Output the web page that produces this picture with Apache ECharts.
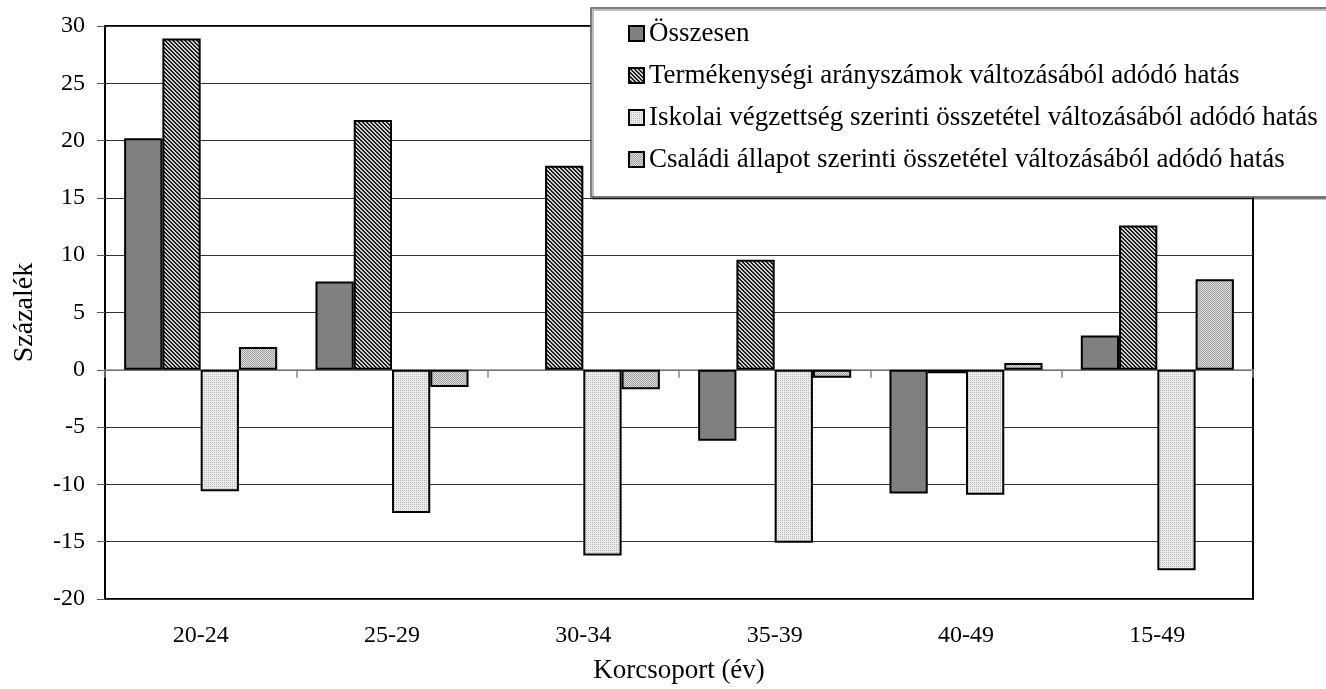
<!DOCTYPE html>
<html><head><meta charset="utf-8">
<script src="https://cdn.jsdelivr.net/npm/echarts@6/dist/echarts.min.js"></script>
<style>html,body{margin:0;padding:0;background:#fff}#c{width:1326px;height:689px}</style>
</head><body><div id="c"></div>
<script>
const categories = ['20-24', '25-29', '30-34', '35-39', '40-49', '15-49'];
const seriesNames = [
  'Összesen',
  'Termékenységi arányszámok változásából adódó hatás',
  'Iskolai végzettség szerinti összetétel változásából adódó hatás',
  'Családi állapot szerinti összetétel változásából adódó hatás'
];
const osszesen      = [20.2, 7.7, 0, -6.2, -10.8, 3.0];
const termekenysegi = [28.9, 21.8, 17.8, 9.6, -0.3, 12.6];
const iskolai       = [-10.6, -12.5, -16.2, -15.1, -10.9, -17.5];
const csaladi       = [2.0, -1.5, -1.7, -0.7, 0.6, 7.9];
const yMin = -20, yMax = 30, yInterval = 5;
const xAxisTitle = 'Korcsoport (év)';
const yAxisTitle = 'Százalék';

const FONT = "'Liberation Serif', 'Times New Roman', serif";

function makePattern(size, bg, fg, fn) {
  const c = document.createElement('canvas');
  c.width = c.height = size;
  const ctx = c.getContext('2d');
  ctx.fillStyle = bg; ctx.fillRect(0, 0, size, size);
  ctx.fillStyle = fg;
  for (let y = 0; y < size; y++) for (let x = 0; x < size; x++) if (fn(x, y)) ctx.fillRect(x, y, 1, 1);
  return { image: c, repeat: 'repeat' };
}
const fills = [
  '#808080',
  makePattern(4, '#d0d0d0', '#202020', (x, y) => ((x - y + 8) % 4) < 2),
  makePattern(2, '#ececec', '#b8b8b8', (x, y) => x === 0 && y === 0),
  makePattern(2, '#dcdcdc', '#a0a0a0', (x, y) => (x + y) % 2 === 0)
];
const values = [osszesen, termekenysegi, iskolai, csaladi];

const chart = echarts.init(document.getElementById('c'), null, { renderer: 'canvas' });
chart.setOption({
  animation: false,
  backgroundColor: '#fff',
  textStyle: { fontFamily: FONT, color: '#000' },
  grid: { left: 105, right: 73, top: 26, bottom: 89, show: true, borderColor: '#000', borderWidth: 2, backgroundColor: 'transparent' },
  legend: {
    orient: 'vertical', left: 591, top: 8,
    padding: [12, 24, 24, 37], itemGap: 15, itemWidth: 15, itemHeight: 15, icon: 'rect',
    backgroundColor: '#fff', borderColor: '#555', borderWidth: 1.5,
    shadowColor: 'rgba(0,0,0,0.35)', shadowOffsetX: 2, shadowOffsetY: 2, shadowBlur: 0,
    textStyle: { fontFamily: FONT, fontSize: 27, lineHeight: 27, color: '#000' },
    data: seriesNames
  },
  xAxis: [
    {
      type: 'category', data: categories, position: 'bottom',
      axisLine: { show: false, onZero: false }, axisTick: { show: false },
      axisLabel: { margin: 25, fontSize: 24, fontFamily: FONT, color: '#000' },
      name: xAxisTitle, nameLocation: 'middle', nameGap: 58,
      nameTextStyle: { fontSize: 27, fontFamily: FONT, color: '#000' }
    },
    {
      type: 'category', data: categories, position: 'bottom',
      axisLine: { show: true, onZero: true, lineStyle: { color: '#888', width: 1.5 } },
      axisTick: { show: true, length: 8, lineStyle: { color: '#888', width: 1.5 } },
      axisLabel: { show: false }
    }
  ],
  yAxis: {
    type: 'value', min: yMin, max: yMax, interval: yInterval,
    axisLine: { show: true, lineStyle: { color: '#000', width: 2 } },
    axisTick: { show: true, length: 8, lineStyle: { color: '#555', width: 1 } },
    axisLabel: { margin: 20, fontSize: 24, fontFamily: FONT, color: '#000' },
    splitLine: { show: true, lineStyle: { color: '#333', width: 1 } },
    name: yAxisTitle, nameLocation: 'middle', nameGap: 66, nameRotate: 90,
    nameTextStyle: { fontSize: 28, fontFamily: FONT, color: '#000' }
  },
  series: seriesNames.map((n, i) => ({
    name: n, type: 'bar', xAxisIndex: 0,
    barGap: '0%', barCategoryGap: '20%',
    data: values[i].map(v => v === 0 ? { value: v, itemStyle: { borderWidth: 0 } } : v),
    itemStyle: { color: fills[i], borderColor: '#000', borderWidth: 2 }
  }))
});
</script></body></html>
